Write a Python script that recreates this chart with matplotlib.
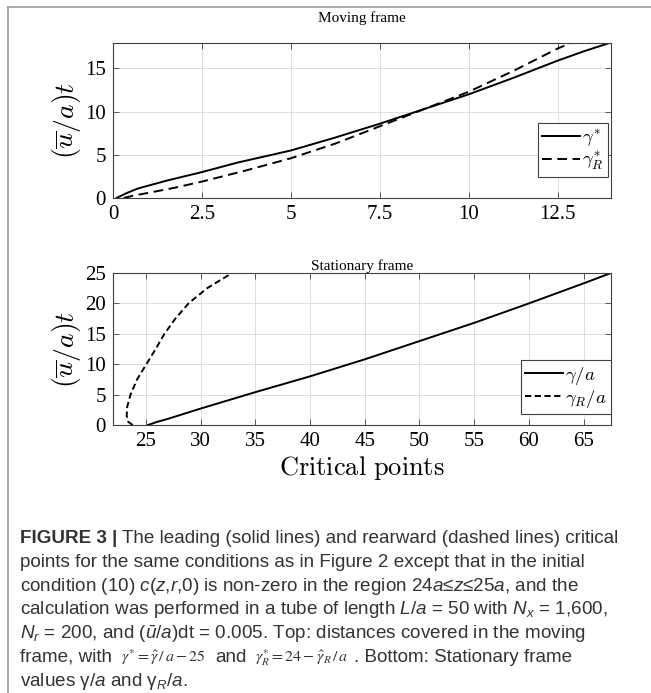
import matplotlib
matplotlib.use('Agg')
import matplotlib.pyplot as plt
from matplotlib.lines import Line2D
from matplotlib import font_manager

# moving frame (top panel)
mov_lead_x = [0.1, 0.4, 0.7, 1.5, 2.5, 3.5, 5.0, 6.25, 7.5, 8.75, 10.0, 11.25, 12.5, 13.25, 14.0]
mov_lead_t = [0.0, 0.6, 1.1, 2.0, 3.0, 4.1, 5.5, 7.0, 8.6, 10.3, 12.0, 13.9, 15.9, 17.0, 18.0]
mov_rear_x = [0.3, 0.6, 1.0, 1.75, 2.5, 3.75, 5.0, 6.25, 7.5, 8.75, 10.0, 11.25, 12.5, 12.9]
mov_rear_t = [0.0, 0.3, 0.6, 1.2, 1.9, 3.2, 4.6, 6.3, 8.3, 10.3, 12.3, 14.7, 17.3, 18.0]

# stationary frame (bottom panel)
sta_lead_x = [25.2, 26.0, 27.0, 30.0, 35.0, 40.0, 45.0, 50.0, 55.0, 60.0, 65.0, 67.5]
sta_lead_t = [0.0, 0.5, 1.0, 2.7, 5.4, 8.0, 10.8, 13.8, 16.8, 20.0, 23.3, 25.0]
sta_rear_x = [23.8, 23.4, 23.25, 23.3, 23.6, 24.2, 25.05, 25.9, 26.7, 27.7, 28.9, 30.6, 32.7]
sta_rear_t = [0.0, 0.5, 1.5, 3.0, 5.0, 7.5, 10.0, 12.5, 15.0, 17.5, 20.0, 22.5, 24.8]

top_xticks = [0, 2.5, 5, 7.5, 10, 12.5]
top_xticklabels = ['0', '2.5', '5', '7.5', '10', '12.5']
top_yticks = [0, 5, 10, 15]
bot_xticks = [25, 30, 35, 40, 45, 50, 55, 60, 65]
bot_yticks = [0, 5, 10, 15, 20, 25]

top_labels = [r'$\gamma^{*}$', r'$\gamma_R^{*}$']
bot_labels = [r'$\gamma/a$', r'$\gamma_R/a$']

# caption font: narrow sans if available
names = {f.name for f in font_manager.fontManager.ttflist}
cap_font = 'Liberation Sans Narrow' if 'Liberation Sans Narrow' in names else 'Liberation Sans'

plt.rcParams['mathtext.fontset'] = 'cm'
plt.rcParams['mathtext.rm'] = cap_font
plt.rcParams['mathtext.it'] = cap_font + ':italic'
plt.rcParams['mathtext.bf'] = cap_font + ':bold'
plt.rcParams['font.family'] = 'Liberation Serif'
plt.rcParams['lines.scale_dashes'] = False

W, H = 651, 693
fig = plt.figure(figsize=(W / 100, H / 100), dpi=100)

def box(l, t, r, b):
    return [l / W, 1 - b / H, (r - l) / W, (b - t) / H]

ax1 = fig.add_axes(box(113, 42.5, 611, 198))
ax2 = fig.add_axes(box(113, 273, 611, 425))

spine_c = '#404040'
for ax in (ax1, ax2):
    ax.set_axisbelow(True)
    ax.grid(True, color='#dedede', lw=0.7)
    ax.tick_params(direction='in', top=True, right=True, length=4, width=0.6,
                   color=spine_c, labelsize=15, pad=5)
    for s in ax.spines.values():
        s.set_color(spine_c)
        s.set_linewidth(0.8)

leg_kw = dict(loc='lower right', borderaxespad=0, fancybox=False, edgecolor=spine_c,
              framealpha=1, handlelength=2.0, handletextpad=0.1, borderpad=0.25,
              labelspacing=0.05)

# top panel
ax1.plot(mov_lead_x, mov_lead_t, color='black', lw=1.4, label=top_labels[0])
ax1.plot(mov_rear_x, mov_rear_t, color='black', lw=1.4, ls=(0, (7, 4)), label=top_labels[1])
ax1.set_xlim(0, 14)
ax1.set_ylim(0, 18)
ax1.set_xticks(top_xticks)
ax1.set_xticklabels(top_xticklabels)
ax1.set_yticks(top_yticks)
ax1.set_title('Moving frame', fontsize=11, pad=15)
ax1.set_ylabel(r'$(\overline{u}/a)t$', fontsize=20)
ax1.yaxis.set_label_coords(-0.06, 0.5)
leg1 = ax1.legend(bbox_to_anchor=(0.994, 0.135), fontsize=13.5, **leg_kw)
leg1.get_frame().set_linewidth(0.8)

# bottom panel
ax2.plot(sta_lead_x, sta_lead_t, color='black', lw=1.4, label=bot_labels[0])
ax2.plot(sta_rear_x, sta_rear_t, color='black', lw=1.4, ls=(0, (4.5, 2.5)), label=bot_labels[1])
ax2.set_xlim(22, 67.5)
ax2.set_ylim(0, 25)
ax2.set_xticks(bot_xticks)
ax2.set_yticks(bot_yticks)
ax2.set_title('Stationary frame', fontsize=11, pad=2)
ax2.set_ylabel(r'$(\overline{u}/a)t$', fontsize=20)
ax2.yaxis.set_label_coords(-0.06, 0.5)
ax2.set_xlabel(r'$\mathrm{Critical\ points}$', fontsize=19)
ax2.xaxis.set_label_coords(0.5, -0.19)
leg2 = ax2.legend(bbox_to_anchor=(1.0, 0.07), fontsize=13.5, **leg_kw)
leg2.get_frame().set_linewidth(0.8)

# outer frame of the figure panel
fig.add_artist(Line2D([8 / W, 1], [1 - 7 / H, 1 - 7 / H], color='#9a9a9a', lw=1.2))
fig.add_artist(Line2D([8 / W, 8 / W], [0, 1 - 7 / H], color='#9a9a9a', lw=1.2))

# caption
cap_c = '#333333'

caption = [
    [('FIGURE 3 |', 'bold', 5), ('The leading (solid lines) and rearward (dashed lines) critical', 'sans', 0)],
    [('points for the same conditions as in Figure 2 except that in the initial', 'sans', 0)],
    [('condition (10) $c$($z$,$r$,0) is non-zero in the region 24$a$≤$z$≤25$a$, and the', 'sans', 0)],
    [('calculation was performed in a tube of length $L$/$a$ = 50 with $N_x$ = 1,600,', 'sans', 0)],
    [('$N_r$ = 200, and ($ū$/$a$)dt = 0.005. Top: distances covered in the moving', 'sans', 0)],
    [('frame, with', 'sans', 9), (r'$\gamma^{*}=\hat{\gamma}\,/\,a-25$', 'formula', 9),
     ('and', 'sans', 9), (r'$\gamma_R^{*}=24-\hat{\gamma}_R\,/\,a$', 'formula', 5),
     ('. Bottom: Stationary frame', 'sans', 0)],
    [(r'values γ/$a$ and $\mathrm{γ}_R$/$a$.', 'sans', 0)],
]
cap_base = [543, 567, 591, 614.5, 638, 662, 686]

renderer = fig.canvas.get_renderer()

def draw_caption(size):
    styles = {
        'sans': dict(family=cap_font, fontsize=size, color=cap_c, math_fontfamily='custom'),
        'bold': dict(family=cap_font, fontsize=size, color=cap_c, math_fontfamily='custom',
                     fontweight='bold'),
        'formula': dict(family='Liberation Serif', fontsize=size * 0.85, color=cap_c,
                        math_fontfamily='stix'),
    }
    texts, ends = [], []
    for runs, yb in zip(caption, cap_base):
        x = 20
        for s, st, gap in runs:
            t = fig.text(x / W, 1 - yb / H, s, ha='left', va='baseline', **styles[st])
            texts.append(t)
            x += t.get_window_extent(renderer).width + gap
        ends.append(x)
    return texts, ends

texts, ends = draw_caption(13)
scale = (620 - 20) / (ends[0] - 20)
for t in texts:
    t.remove()
draw_caption(13 * scale)

fig.savefig('out.png', dpi=100)
